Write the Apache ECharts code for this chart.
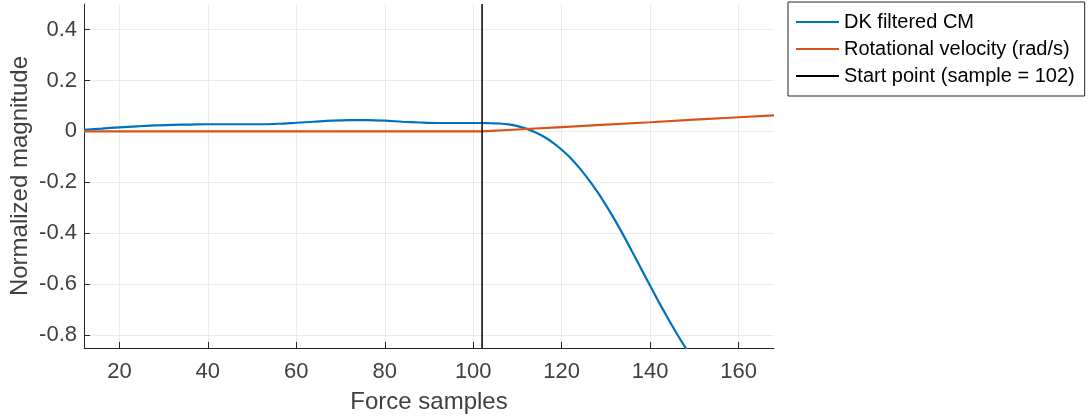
<!DOCTYPE html>
<html>
<head>
<meta charset="utf-8">
<script src="https://cdn.jsdelivr.net/npm/echarts@6/dist/echarts.min.js"></script>
<style>
html,body{margin:0;padding:0;background:#fff;}
#chart{width:1090px;height:418px;}
</style>
</head>
<body>
<div id="chart"></div>
<script>
// ---- data ----
const seriesNames = ['DK filtered CM', 'Rotational velocity (rad/s)', 'Start point (sample = 102)'];
const cmX = [12,16,20,24,28,32,36,40,44,48,52,56,60,64,68,72,76,80,84,88,92,96,100,102,104,106,108,110,112,114,116,118,120,122,124,126,128,130,132,134,136,138,140,142,144,146,148,150];
const cmY = [0.006,0.011,0.016,0.020,0.024,0.026,0.027,0.028,0.028,0.028,0.028,0.030,0.034,0.038,0.042,0.044,0.044,0.042,0.038,0.035,0.033,0.033,0.033,0.033,0.032,0.031,0.0275,0.021,0.011,-0.003,-0.021,-0.044,-0.072,-0.104,-0.143,-0.187,-0.235,-0.289,-0.347,-0.409,-0.474,-0.540,-0.606,-0.671,-0.733,-0.793,-0.849,-0.901];
const velX = [12,102,110,120,130,140,150,160,168];
const velY = [0,0,0.0075,0.017,0.0265,0.036,0.046,0.0555,0.063];
const startSample = 102;
const xRange = [12, 168];
const yRange = [-0.85, 0.5];
const xTicks = [20,40,60,80,100,120,140,160];
const yTicks = [-0.8,-0.6,-0.4,-0.2,0,0.2,0.4];
const xTitle = 'Force samples';
const yTitle = 'Normalized magnitude';

const zip = (a, b) => a.map((v, i) => [v, b[i]]);
const FONT = '"Liberation Sans", Arial, Helvetica, sans-serif';
const AX = '#262626';

const chart = echarts.init(document.getElementById('chart'), null, {renderer: 'canvas'});
chart.setOption({
  animation: false,
  backgroundColor: '#ffffff',
  textStyle: {fontFamily: FONT},
  grid: {left: 84, top: 4, right: 316, bottom: 70, containLabel: false, outerBoundsMode: 'none'},
  legend: {
    orient: 'vertical',
    left: 788, top: 2,
    padding: [10, 10, 10, 8],
    itemGap: 7,
    itemWidth: 43, itemHeight: 2,
    icon: 'rect',
    borderColor: '#262626', borderWidth: 1,
    backgroundColor: '#fff',
    textStyle: {fontFamily: FONT, fontSize: 20, color: '#000', lineHeight: 20},
    data: seriesNames
  },
  xAxis: {
    type: 'value', min: xRange[0], max: xRange[1],
    name: xTitle, nameLocation: 'middle', nameGap: 42, nameMoveOverlap: false,
    nameTextStyle: {fontFamily: FONT, fontSize: 24, color: '#404040'},
    axisLine: {show: true, onZero: false, lineStyle: {color: AX, width: 1}},
    axisTick: {show: true, inside: true, length: 6, lineStyle: {color: AX}, customValues: xTicks},
    axisLabel: {fontFamily: FONT, fontSize: 22, color: '#404040', margin: 13, customValues: xTicks},
    splitLine: {show: true, lineStyle: {color: '#ebebeb', width: 1}}
  },
  yAxis: {
    type: 'value', min: yRange[0], max: yRange[1],
    name: yTitle, nameLocation: 'middle', nameGap: 52, nameMoveOverlap: false,
    nameTextStyle: {fontFamily: FONT, fontSize: 24, color: '#404040'},
    axisLine: {show: true, onZero: false, lineStyle: {color: AX, width: 1}},
    axisTick: {show: true, inside: true, length: 6, lineStyle: {color: AX}, customValues: yTicks},
    axisLabel: {fontFamily: FONT, fontSize: 22, color: '#404040', margin: 7, customValues: yTicks,
      formatter: v => String(Math.round(v * 10) / 10)},
    splitLine: {show: true, lineStyle: {color: '#ebebeb', width: 1}}
  },
  series: [
    {name: seriesNames[0], type: 'line', data: zip(cmX, cmY), smooth: 0.3, symbol: 'none',
     lineStyle: {color: '#0072BD', width: 2.2}, itemStyle: {color: '#0072BD'}, clip: true, z: 3},
    {name: seriesNames[1], type: 'line', data: zip(velX, velY), symbol: 'none',
     lineStyle: {color: '#D95319', width: 2.2}, itemStyle: {color: '#D95319'}, clip: true, z: 4},
    {name: seriesNames[2], type: 'line', data: [[startSample, yRange[0]], [startSample, yRange[1]]], symbol: 'none',
     lineStyle: {color: '#000', width: 1.5}, itemStyle: {color: '#000'}, clip: true, z: 5}
  ]
});
</script>
</body>
</html>
